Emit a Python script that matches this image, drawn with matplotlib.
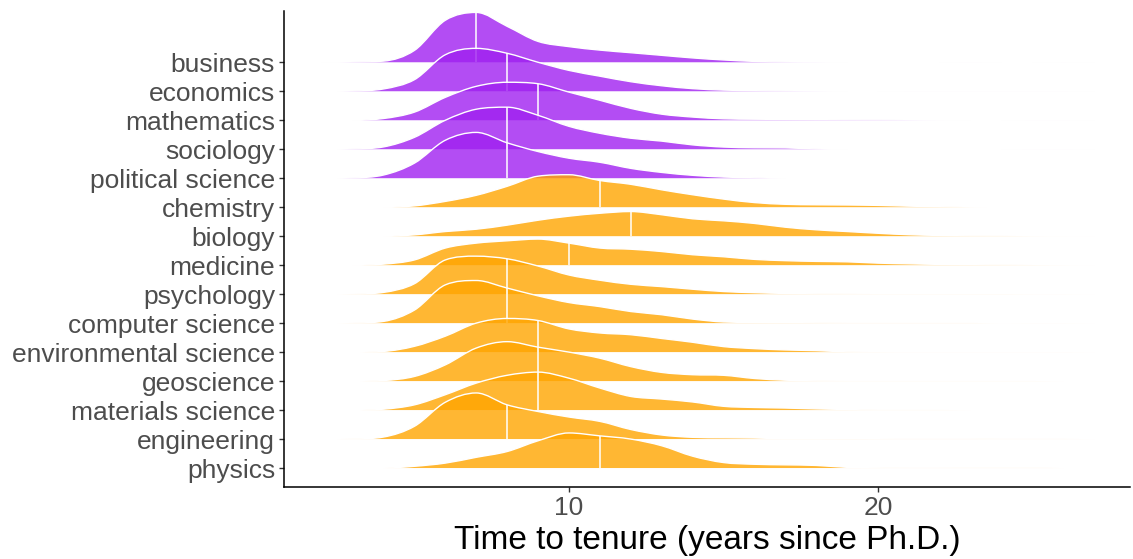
import numpy as np
import matplotlib
matplotlib.use("Agg")
import matplotlib.pyplot as plt
from matplotlib.path import Path
from matplotlib.patches import PathPatch

plt.rcParams["font.family"] = ["Liberation Sans", "DejaVu Sans"]

# fields from top ridge to bottom ridge
fields = ["business", "economics", "mathematics", "sociology", "political science",
          "chemistry", "biology", "medicine", "psychology", "computer science",
          "environmental science", "geoscience", "materials science", "engineering",
          "physics"]
social = ["business", "economics", "mathematics", "sociology", "political science"]

years = list(range(2, 28))

# ridge heights (in row units) at each year
business = [0, 0.01, 0.04, 0.41, 1.45, 1.72, 1.24, 0.72, 0.54, 0.42, 0.33, 0.24, 0.15,
            0.08, 0.03, 0.01, 0.005, 0, 0, 0, 0, 0.003, 0, 0, 0.002, 0]
economics = [0, 0.01, 0.08, 0.40, 1.26, 1.48, 1.31, 1.0, 0.72, 0.52, 0.33, 0.19, 0.09,
             0.04, 0.02, 0.01, 0.005, 0, 0, 0.002, 0.002, 0.002, 0.002, 0.002, 0.002, 0]
mathematics = [0, 0, 0.06, 0.28, 0.79, 1.17, 1.31, 1.26, 0.97, 0.69, 0.41, 0.21, 0.11,
               0.05, 0.035, 0.028, 0.02, 0.016, 0.012, 0.007, 0.002, 0, 0, 0.002, 0.002, 0]
sociology = [0, 0.01, 0.08, 0.41, 1.0, 1.38, 1.45, 1.17, 0.79, 0.55, 0.38, 0.28, 0.15,
             0.075, 0.05, 0.045, 0.01, 0, 0, 0, 0, 0, 0, 0.002, 0.002, 0]
political_science = [0, 0.01, 0.11, 0.52, 1.31, 1.58, 1.22, 0.92, 0.69, 0.55, 0.34, 0.2,
                     0.1, 0.04, 0.015, 0, 0, 0, 0, 0, 0, 0, 0, 0, 0, 0]
chemistry = [0, 0, 0, 0.045, 0.2, 0.41, 0.72, 1.07, 1.12, 0.92, 0.79, 0.6, 0.43, 0.28,
             0.16, 0.1, 0.083, 0.076, 0.062, 0.035, 0.017, 0.003, 0, 0, 0, 0]
biology = [0, 0, 0, 0.045, 0.16, 0.24, 0.38, 0.55, 0.69, 0.79, 0.85, 0.74, 0.6, 0.53,
           0.44, 0.31, 0.22, 0.16, 0.1, 0.05, 0.025, 0.012, 0.008, 0.003, 0.001, 0]
medicine = [0, 0, 0.035, 0.18, 0.59, 0.76, 0.84, 0.9, 0.76, 0.59, 0.55, 0.47, 0.36, 0.29,
            0.2, 0.155, 0.13, 0.115, 0.07, 0.045, 0.026, 0.017, 0.01, 0.005, 0.002, 0]
psychology = [0, 0.005, 0.06, 0.36, 1.18, 1.31, 1.22, 0.97, 0.66, 0.48, 0.34, 0.26, 0.17,
              0.09, 0.05, 0.024, 0.012, 0.007, 0.004, 0.004, 0.004, 0.004, 0.004, 0.002,
              0.002, 0]
computer_science = [0, 0.005, 0.06, 0.45, 1.32, 1.47, 1.21, 0.94, 0.71, 0.57, 0.4, 0.29,
                    0.14, 0.04, 0.024, 0.017, 0.012, 0.005, 0.005, 0.005, 0.005, 0.005, 0,
                    0.002, 0.002, 0]
environmental_science = [0, 0, 0.024, 0.2, 0.55, 1.0, 1.16, 1.09, 0.8, 0.66, 0.6, 0.47,
                         0.34, 0.19, 0.12, 0.075, 0.05, 0.01, 0.003, 0.002, 0.002, 0.002,
                         0.002, 0.002, 0.002, 0]
geoscience = [0, 0, 0.02, 0.16, 0.56, 1.14, 1.36, 1.17, 1.0, 0.79, 0.5, 0.3, 0.22, 0.2,
              0.09, 0.03, 0.01, 0.003, 0.003, 0.003, 0.003, 0.003, 0.003, 0.003, 0, 0]
materials_science = [0, 0, 0.03, 0.18, 0.53, 0.93, 1.2, 1.31, 1.1, 0.76, 0.47, 0.38, 0.28,
                     0.13, 0.09, 0.07, 0.04, 0.02, 0.003, 0.003, 0.003, 0, 0, 0, 0, 0]
engineering = [0, 0.005, 0.07, 0.44, 1.27, 1.59, 1.18, 0.95, 0.76, 0.61, 0.33, 0.14, 0.06,
               0.045, 0.035, 0.015, 0.015, 0.025, 0.012, 0.01, 0.01, 0.01, 0.003, 0.003,
               0.003, 0]
physics = [0, 0, 0, 0.06, 0.17, 0.37, 0.57, 0.94, 1.21, 1.11, 1.0, 0.77, 0.41, 0.19, 0.13,
           0.11, 0.09, 0.024, 0.01, 0.003, 0.003, 0.006, 0.006, 0.006, 0, 0]

heights = [business, economics, mathematics, sociology, political_science, chemistry,
           biology, medicine, psychology, computer_science, environmental_science,
           geoscience, materials_science, engineering, physics]

medians = [7, 8, 9, 8, 8, 11, 12, 10, 8, 8, 9, 9, 9, 8, 11]

purple = "#A020F0"
orange = "#FFA500"


def top_curve(xs, ys, base):
    # smooth bezier through the read values, slopes limited so it never overshoots
    xs = np.asarray(xs, float)
    ys = np.asarray(ys, float)
    n = len(xs)
    d = np.diff(ys) / np.diff(xs)
    m = np.zeros(n)
    for k in range(1, n - 1):
        if d[k - 1] * d[k] > 0:
            s = 0.5 * (d[k - 1] + d[k])
            lim = 3.0 * min(abs(d[k - 1]), abs(d[k]))
            m[k] = np.sign(s) * min(abs(s), lim)
    verts = [(xs[0], base + ys[0])]
    codes = [Path.MOVETO]
    for k in range(n - 1):
        h = xs[k + 1] - xs[k]
        verts += [(xs[k] + h / 3, base + ys[k] + m[k] * h / 3),
                  (xs[k + 1] - h / 3, base + ys[k + 1] - m[k + 1] * h / 3),
                  (xs[k + 1], base + ys[k + 1])]
        codes += [Path.CURVE4] * 3
    return verts, codes


fig = plt.figure(figsize=(11.33, 5.59), dpi=100)
ax = fig.add_axes([0.2507, 0.1293, 0.7467, 0.8516])

n = len(fields)
bases = []
for i, (name, ys, med) in enumerate(zip(fields, heights, medians)):
    base = n - 1 - i
    bases.append(base)
    col = purple if name in social else orange
    verts, codes = top_curve(years, ys, base)
    fverts = verts + [(years[-1], base), (years[0], base), (years[0], base)]
    fcodes = codes + [Path.LINETO, Path.LINETO, Path.CLOSEPOLY]
    z = 10 + 3 * i
    ax.add_patch(PathPatch(Path(fverts, fcodes), facecolor=col, alpha=0.8,
                           edgecolor="none", zorder=z))
    ax.add_patch(PathPatch(Path(verts, codes), fill=False, edgecolor="white",
                           lw=1.0, zorder=z + 1))
    hm = ys[years.index(med)]
    ax.plot([med, med], [base, base + hm], color="white", lw=1.1,
            solid_capstyle="butt", zorder=z + 2)

ax.set_xlim(0.78, 28.16)
ax.set_ylim(-0.645, n - 1 + 1.78)
ax.set_yticks(bases)
ax.set_yticklabels(fields)
ax.set_xticks([10, 20])

for s in ["top", "right"]:
    ax.spines[s].set_visible(False)
for s in ["left", "bottom"]:
    ax.spines[s].set_linewidth(1.1)
    ax.spines[s].set_color("black")

ax.tick_params(axis="both", length=3.4, width=1.0, color="#333333",
               labelcolor="#4d4d4d", labelsize=19, pad=3)
ax.set_xlabel("Time to tenure (years since Ph.D.)", fontsize=24, color="black",
              labelpad=4)

fig.savefig("out.png", dpi=100)
